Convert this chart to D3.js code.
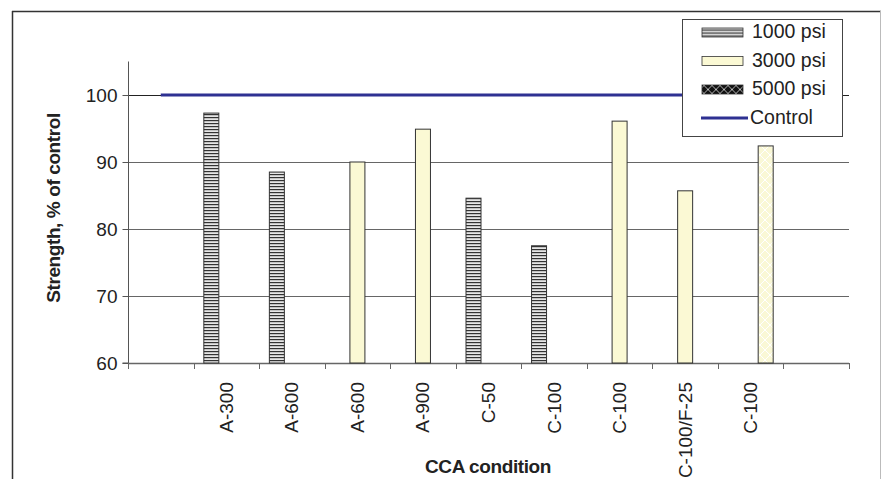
<!DOCTYPE html>
<html>
<head>
<meta charset="utf-8">
<script src="https://cdn.jsdelivr.net/npm/d3@7"></script>
<style>
  body { margin: 0; background: #fff; }
  text { font-family: "Liberation Sans", Arial, sans-serif; fill: #222; }
</style>
</head>
<body>
<div id="chart"></div>
<script>
// Data -------------------------------------------------
const categories = ["", "A-300", "A-600", "A-600", "A-900", "C-50", "C-100", "C-100", "C-100/F-25", "C-100", ""]
const seriesNames = ["1000 psi", "3000 psi", "5000 psi"]
const psi1000 = [null, 97.3, 88.5, null, null, 84.6, 77.5, null, null, null, null]
const psi3000 = [null, null, null, 90.0, 94.9, null, null, 96.1, 85.7, null, null]
const psi5000 = [null, null, null, null, null, null, null, null, null, 92.4, null]
const control = [100, 100, 100, 100, 100, 100, 100, 100, 100, 100, 100]
const yTicks = [60, 70, 80, 90, 100]

// Canvas setup -----------------------------------------
const W = 882, H = 479
const PLOT = {LEFT: 128, RIGHT: 849, TOP: 61.5, BOTTOM: 363}
const FONT = 19

const svg = d3.select("#chart").append("svg")
  .attr("width", W)
  .attr("height", H)

const defs = svg.append("defs")

// horizontal stripes for 1000 psi
const stripes = defs.append("pattern")
  .attr("id", "stripes")
  .attr("patternUnits", "userSpaceOnUse")
  .attr("width", 6).attr("height", 3)
stripes.append("rect").attr("width", 6).attr("height", 3).attr("fill", "#e6e6e6")
stripes.append("rect").attr("y", 0).attr("width", 6).attr("height", 1.2).attr("fill", "#333")

// diamond lattice for 5000 psi (legend swatch)
const lattice = defs.append("pattern")
  .attr("id", "lattice")
  .attr("patternUnits", "userSpaceOnUse")
  .attr("width", 8).attr("height", 8)
lattice.append("rect").attr("width", 8).attr("height", 8).attr("fill", "#111")
lattice.append("path").attr("d", "M0,4 L4,0 L8,4 L4,8 Z").attr("fill", "none")
  .attr("stroke", "#ddd").attr("stroke-width", 0.8)

// pale lattice as it shows on the bar
const latticeLight = defs.append("pattern")
  .attr("id", "latticeLight")
  .attr("patternUnits", "userSpaceOnUse")
  .attr("width", 10).attr("height", 10)
latticeLight.append("rect").attr("width", 10).attr("height", 10).attr("fill", "#faf8d6")
latticeLight.append("path").attr("d", "M0,5 L5,0 L10,5 L5,10 Z").attr("fill", "none")
  .attr("stroke", "#fff").attr("stroke-width", 1)

const fills = {"1000 psi": "url(#stripes)", "3000 psi": "#fbf9d4", "5000 psi": "url(#latticeLight)"}
const swatchFills = {"1000 psi": "url(#stripes)", "3000 psi": "#fbf9d4", "5000 psi": "url(#lattice)"}

// outer frame
svg.append("line").attr("x1", 12).attr("x2", 881).attr("y1", 11.5).attr("y2", 11.5)
  .attr("stroke", "#333").attr("stroke-width", 1.5)
svg.append("line").attr("x1", 12.5).attr("x2", 12.5).attr("y1", 11).attr("y2", H)
  .attr("stroke", "#333").attr("stroke-width", 1.5)
svg.append("line").attr("x1", 880.5).attr("x2", 880.5).attr("y1", 11).attr("y2", H)
  .attr("stroke", "#bbb").attr("stroke-width", 1)

// Scales ------------------------------------------------
const x = d3.scaleBand()
  .domain(d3.range(categories.length))
  .range([PLOT.LEFT, PLOT.RIGHT])
  .padding(0)

const groupW = 45
const xSub = d3.scaleBand()
  .domain(seriesNames)
  .range([0, groupW])

const y = d3.scaleLinear()
  .domain([60, 105])
  .range([PLOT.BOTTOM, PLOT.TOP])

// Gridlines ---------------------------------------------
svg.append("g")
  .selectAll("line")
  .data(yTicks.filter(d => d > 60))
  .join("line")
  .attr("x1", PLOT.LEFT).attr("x2", PLOT.RIGHT)
  .attr("y1", d => Math.round(y(d)) + 0.5).attr("y2", d => Math.round(y(d)) + 0.5)
  .attr("stroke", d => d === 100 ? "#222" : "#666")
  .attr("stroke-width", 1)

// Axes --------------------------------------------------
const yAxis = d3.axisLeft(y).tickValues(yTicks).tickSize(6).tickPadding(5)
const gy = svg.append("g")
  .attr("transform", `translate(${PLOT.LEFT + 0.5},0)`)
  .call(yAxis)
gy.select(".domain").attr("stroke", "#555").attr("d", `M-6,${PLOT.BOTTOM}H0V${PLOT.TOP}`)
gy.selectAll(".tick line").attr("stroke", "#555")
gy.selectAll(".tick text").attr("font-size", FONT).attr("dy", "0.36em").style("fill", "#222")

// x axis line and category separators
const gx = svg.append("g")
gx.append("line")
  .attr("x1", PLOT.LEFT).attr("x2", PLOT.RIGHT)
  .attr("y1", PLOT.BOTTOM + 0.5).attr("y2", PLOT.BOTTOM + 0.5)
  .attr("stroke", "#666").attr("stroke-width", 1.5)
gx.selectAll("line.sep")
  .data(d3.range(categories.length + 1))
  .join("line")
  .attr("class", "sep")
  .attr("x1", i => Math.round(PLOT.LEFT + i * x.step()) + 0.5)
  .attr("x2", i => Math.round(PLOT.LEFT + i * x.step()) + 0.5)
  .attr("y1", PLOT.BOTTOM).attr("y2", PLOT.BOTTOM + 6)
  .attr("stroke", "#666").attr("stroke-width", 1)

gx.selectAll("text.cat")
  .data(categories.map((c, i) => ({c, i})).filter(d => d.c !== ""))
  .join("text")
  .attr("class", "cat")
  .attr("transform", d => `translate(${x(d.i) + x.bandwidth() / 2 + 6.5},${PLOT.BOTTOM + 19}) rotate(-90)`)
  .attr("text-anchor", "end")
  .attr("font-size", FONT)
  .text(d => d.c)

// Bars --------------------------------------------------
const seriesData = [psi1000, psi3000, psi5000]
const barData = []
seriesNames.forEach((s, si) => {
  seriesData[si].forEach((v, i) => {
    if (v != null) barData.push({s, i, v})
  })
})

svg.append("g")
  .selectAll("rect")
  .data(barData)
  .join("rect")
  .attr("x", d => x(d.i) + (x.bandwidth() - groupW) / 2 + xSub(d.s))
  .attr("y", d => y(d.v))
  .attr("width", xSub.bandwidth())
  .attr("height", d => y(60) - y(d.v))
  .attr("fill", d => fills[d.s])
  .attr("stroke", "#333")
  .attr("stroke-width", 1)

// Control line ------------------------------------------
const line = d3.line()
  .x((d, i) => x(i) + x.bandwidth() / 2)
  .y(d => y(d))

svg.append("path")
  .attr("d", line(control))
  .attr("fill", "none")
  .attr("stroke", "#2e3192")
  .attr("stroke-width", 3)

// Axis titles -------------------------------------------
svg.append("text")
  .attr("transform", `translate(60,208) rotate(-90)`)
  .attr("text-anchor", "middle")
  .attr("font-size", FONT)
  .attr("font-weight", "bold")
  .attr("letter-spacing", -0.4)
  .text("Strength, % of control")

svg.append("text")
  .attr("x", 488).attr("y", 473)
  .attr("text-anchor", "middle")
  .attr("font-size", FONT)
  .attr("font-weight", "bold")
  .attr("letter-spacing", -0.4)
  .text("CCA condition")

// Legend ------------------------------------------------
const legend = svg.append("g")
legend.append("rect")
  .attr("x", 682.5).attr("y", 19.5)
  .attr("width", 160).attr("height", 117)
  .attr("fill", "#fff").attr("stroke", "#444").attr("stroke-width", 1)

const legendItems = seriesNames.concat(["Control"])
const li = legend.selectAll("g.item")
  .data(legendItems)
  .join("g")
  .attr("class", "item")
  .attr("transform", (d, i) => `translate(0,${32.5 + i * 28.5})`)

li.filter(d => d !== "Control").append("rect")
  .attr("x", 702).attr("y", -4.5)
  .attr("width", 41).attr("height", 9)
  .attr("fill", d => swatchFills[d])
  .attr("stroke", "#333").attr("stroke-width", 0.8)

li.filter(d => d === "Control").append("line")
  .attr("x1", 701).attr("x2", 748)
  .attr("stroke", "#2e3192").attr("stroke-width", 3)

li.append("text")
  .attr("x", d => d === "Control" ? 750 : 752)
  .attr("y", 5.5)
  .attr("font-size", FONT + 0.5)
  .text(d => d)
</script>
</body>
</html>
